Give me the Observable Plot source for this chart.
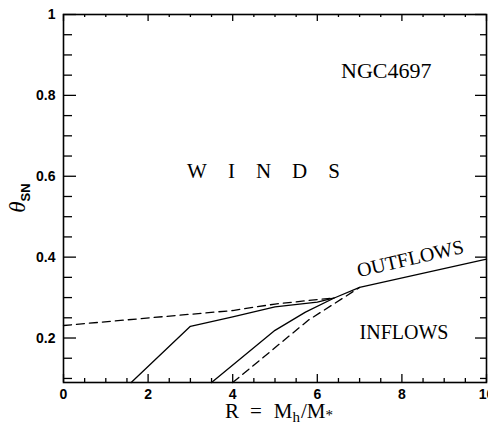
<!DOCTYPE html>
<html>
<head>
<meta charset="utf-8">
<script src="https://cdn.jsdelivr.net/npm/d3@7"></script>
<script src="https://cdn.jsdelivr.net/npm/@observablehq/plot@0.6"></script>
<style>
  html, body { margin: 0; padding: 0; background: #fff; }
  #chart svg { display: block; }
</style>
</head>
<body>
<div id="chart"></div>
<script>
// Critical supernova efficiency theta_SN versus dark-to-luminous mass ratio R (NGC4697)
const solidMainR      = [1.6, 3.0, 4.0, 5.0, 6.0, 6.4, 7.0, 10.0];
const solidMainTheta  = [0.09, 0.229, 0.252, 0.277, 0.289, 0.299, 0.325, 0.395];
const solidInnerR     = [3.5, 5.0, 5.72, 6.4];
const solidInnerTheta = [0.09, 0.219, 0.264, 0.299];
const dashedUpperR     = [0.0, 4.0, 5.0, 6.0, 6.4];
const dashedUpperTheta = [0.231, 0.268, 0.284, 0.295, 0.299];
const dashedLowerR     = [4.0, 5.8, 7.0];
const dashedLowerTheta = [0.09, 0.245, 0.325];

const xTicks = [0, 2, 4, 6, 8, 10];
const yTicks = [0.2, 0.4, 0.6, 0.8, 1];
const yTickLabels = ["0.2", "0.4", "0.6", "0.8", "1"];

const W = 488, H = 425;
const mt = 14, mb = 43, ml = 63, mr = 2;
const frameW = W - ml - mr, frameH = H - mt - mb;

const pts = (rs, ts) => rs.map((r, i) => ({r, t: ts[i]}));

const xMinor = d3.range(0, 10.001, 0.5).filter(v => !xTicks.includes(v));
const yMinor = d3.range(0.1, 1.001, 0.05).map(v => +v.toFixed(2)).filter(v => !yTicks.includes(v));

const serif = "Liberation Serif, Times New Roman, serif";
const lineStyle = {x: "r", y: "t", stroke: "#000", strokeWidth: 1.3, curve: "linear"};

const plot = Plot.plot({
  width: W,
  height: H,
  marginTop: mt,
  marginBottom: mb,
  marginLeft: ml,
  marginRight: mr,
  style: {fontFamily: "Liberation Sans, Arial, sans-serif", color: "#000", background: "#fff"},
  x: {domain: [0, 10]},
  y: {domain: [0.09, 1]},
  marks: [
    // inward ticks on all four sides
    Plot.tickX(xTicks, {x: d => d, insetTop: frameH - 8, stroke: "#000", strokeWidth: 1.3}),
    Plot.tickX(xMinor, {x: d => d, insetTop: frameH - 4, stroke: "#000", strokeWidth: 1.3}),
    Plot.tickX(xTicks, {x: d => d, insetBottom: frameH - 7, stroke: "#000", strokeWidth: 1.3}),
    Plot.tickX(xMinor, {x: d => d, insetBottom: frameH - 3, stroke: "#000", strokeWidth: 1.3}),
    Plot.tickY(yTicks, {y: d => d, insetRight: frameW - 13, stroke: "#000", strokeWidth: 1.3}),
    Plot.tickY(yMinor, {y: d => d, insetRight: frameW - 9, stroke: "#000", strokeWidth: 1.3}),
    Plot.tickY(yTicks, {y: d => d, insetLeft: frameW - 11, stroke: "#000", strokeWidth: 1.3}),
    Plot.tickY(yMinor, {y: d => d, insetLeft: frameW - 6, stroke: "#000", strokeWidth: 1.3}),
    Plot.frame({stroke: "#000", strokeWidth: 1.6}),
    Plot.axisX({ticks: xTicks, tickSize: 0, tickPadding: 7, fontSize: 14, fontWeight: "bold", label: null}),
    Plot.axisY({ticks: yTicks, tickFormat: d => yTickLabels[yTicks.indexOf(d)], tickSize: 0, tickPadding: 8,
                fontSize: 14, fontWeight: "bold", label: null}),
    // boundary curves
    Plot.line(pts(dashedUpperR, dashedUpperTheta), {...lineStyle, strokeDasharray: "8,5"}),
    Plot.line(pts(dashedLowerR, dashedLowerTheta), {...lineStyle, strokeDasharray: "8,5"}),
    Plot.line(pts(solidMainR, solidMainTheta), lineStyle),
    Plot.line(pts(solidInnerR, solidInnerTheta), lineStyle),
    // region labels
    Plot.text([{text: "NGC4697", r: 7.63, t: 0.86}], {x: "r", y: "t", text: "text",
               fontFamily: serif, fontSize: 22, fill: "#000"}),
    Plot.text([{text: "INFLOWS", r: 8.05, t: 0.213}], {x: "r", y: "t", text: "text",
               fontFamily: serif, fontSize: 20, fill: "#000"}),
    Plot.text([{text: "WINDS", r: 4.74, t: 0.613}], {x: "r", y: "t", text: "text", dx: 10,
               fontFamily: serif, fontSize: 21, fill: "#000"}),
    Plot.text([{text: "OUTFLOWS", r: 8.2, t: 0.396}], {x: "r", y: "t", text: "text", rotate: -13,
               fontFamily: serif, fontSize: 20, fill: "#000"})
  ]
});

const svg = d3.select(plot);
svg.selectAll("text").filter(function() { return this.textContent === "WINDS"; })
  .attr("letter-spacing", 21);

// axis titles with subscripts
const xt = svg.append("text")
  .attr("x", 279).attr("y", 418)
  .attr("text-anchor", "middle")
  .attr("font-family", serif).attr("font-size", 21).attr("fill", "#000");
xt.append("tspan").text("R");
xt.append("tspan").attr("dx", 11).text("=");
xt.append("tspan").attr("dx", 12).text("M");
xt.append("tspan").attr("font-size", 15).attr("dy", 4).text("h");
xt.append("tspan").attr("dy", -4).attr("dx", 1).text("/");
xt.append("tspan").text("M");
xt.append("tspan").attr("font-size", 15).attr("dy", 2).text("*");

const yt = svg.append("text")
  .attr("transform", "translate(25,198) rotate(-90)")
  .attr("text-anchor", "middle")
  .attr("font-family", serif).attr("font-size", 23).attr("fill", "#000");
yt.append("tspan").attr("font-style", "italic").text("θ");
yt.append("tspan").attr("font-family", "Liberation Sans, Arial, sans-serif").attr("font-weight", "bold")
  .attr("font-size", 13).attr("dy", 5).text("SN");

document.getElementById("chart").append(plot);
</script>
</body>
</html>
